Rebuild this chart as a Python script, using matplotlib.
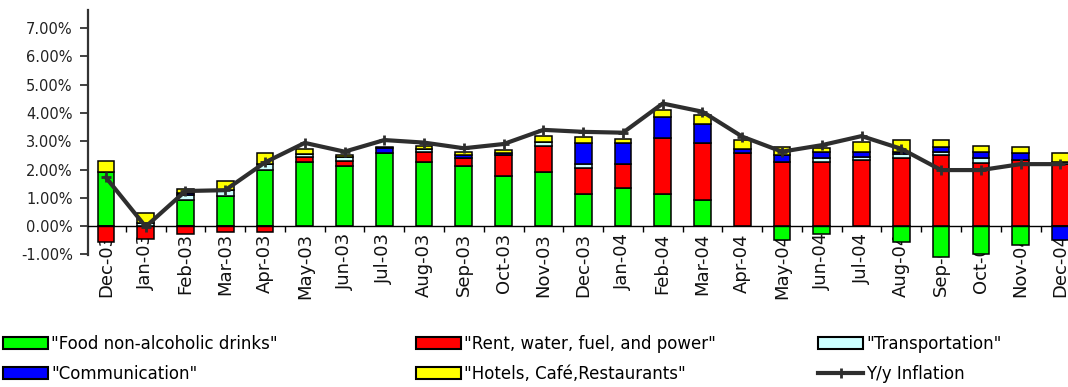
import numpy as np
import matplotlib
matplotlib.use('Agg')
from matplotlib import pyplot as plt
from matplotlib.patches import Patch
from matplotlib.lines import Line2D
from matplotlib.ticker import MultipleLocator

months = ['Dec-03', 'Jan-03', 'Feb-03', 'Mar-03', 'Apr-03', 'May-03', 'Jun-03',
          'Jul-03', 'Aug-03', 'Sep-03', 'Oct-03', 'Nov-03', 'Dec-03', 'Jan-04',
          'Feb-04', 'Mar-04', 'Apr-04', 'May-04', 'Jun-04', 'Jul-04', 'Aug-04',
          'Sep-04', 'Oct-04', 'Nov-04', 'Dec-04']

# contributions to y/y inflation, percentage points
food = [1.92, 0.00, 0.92, 1.06, 2.00, 2.27, 2.12, 2.57, 2.27, 2.12, 1.77, 1.92, 1.13,
        1.33, 1.13, 0.92, 0.00, -0.49, -0.28, 0.00, -0.55, -1.10, -0.97, -0.67, 0.00]
rent = [-0.55, -0.44, -0.26, -0.20, -0.20, 0.18, 0.19, 0.00, 0.36, 0.27, 0.74, 0.91, 0.94,
        0.86, 1.99, 2.00, 2.57, 2.27, 2.27, 2.35, 2.39, 2.51, 2.24, 2.33, 2.19]
transport = [0.00, 0.10, 0.18, 0.21, 0.21, 0.10, 0.14, 0.00, 0.11, 0.00, 0.00, 0.15, 0.12,
             0.00, 0.00, 0.00, 0.00, 0.00, 0.12, 0.10, 0.16, 0.12, 0.15, 0.00, 0.08]
communication = [0.00, 0.00, 0.08, 0.00, 0.00, 0.00, 0.00, 0.18, 0.00, 0.12, 0.08, 0.00, 0.73,
                 0.75, 0.74, 0.67, 0.14, 0.24, 0.24, 0.18, 0.08, 0.15, 0.24, 0.24, -0.49]
hotels = [0.38, 0.35, 0.12, 0.33, 0.38, 0.16, 0.06, 0.05, 0.10, 0.12, 0.10, 0.20, 0.24,
          0.12, 0.24, 0.33, 0.33, 0.27, 0.12, 0.35, 0.41, 0.26, 0.20, 0.21, 0.30]
inflation = [1.72, -0.02, 1.24, 1.27, 2.25, 2.94, 2.63, 3.04, 2.95, 2.75, 2.90, 3.40, 3.33,
             3.30, 4.33, 4.04, 3.16, 2.63, 2.86, 3.18, 2.73, 1.98, 1.98, 2.19, 2.19]

labels = ['"Food non-alcoholic drinks"', '"Rent, water, fuel, and power"', '"Transportation"',
          '"Communication"', '"Hotels, Café,Restaurants"']
colors = ['#00ff00', '#ff0000', '#ccffff', '#0000ff', '#ffff00']

fig = plt.figure(figsize=(10.68, 3.87), dpi=100)
ax = fig.add_axes([0.0824, 0.341, 0.931, 0.633])

x = np.arange(len(months))
pos = np.zeros(len(x))
neg = np.zeros(len(x))
for vals, col in zip([food, rent, transport, communication, hotels], colors):
    v = np.array(vals)
    bottom = np.where(v >= 0, pos, neg)
    ax.bar(x, v, 0.42, bottom=bottom, color=col, edgecolor='black',
           linewidth=1.1, clip_on=False, zorder=2)
    pos += np.clip(v, 0, None)
    neg += np.clip(v, None, 0)

ax.plot(x, inflation, color='#2e2e2e', lw=3, marker='+', ms=7, mew=2,
        zorder=3, clip_on=False)

ax.set_xlim(-0.45, 24.55)
ax.set_ylim(-1.02, 7.63)
ax.set_yticks(np.arange(-1, 8))
ax.set_yticklabels(['%.2f%%' % v for v in np.arange(-1, 8)], fontsize=10.5, color='#222222')
ax.tick_params(axis='y', length=6, width=1.3, color='#333333', pad=5)

# category axis sits on the zero line
ax.spines['bottom'].set_position(('data', 0))
ax.spines['bottom'].set_linewidth(1.0)
ax.spines['top'].set_visible(False)
ax.spines['right'].set_visible(False)
ax.spines['left'].set_color('#333333')
ax.spines['left'].set_linewidth(1.6)
ax.set_xticks(x)
ax.set_xticklabels(months, rotation=90, fontsize=13, color='#111111')
ax.xaxis.set_minor_locator(MultipleLocator(1, offset=0.5))
ax.tick_params(axis='x', which='major', length=0, pad=5)
ax.tick_params(axis='x', which='minor', length=4, width=1.0, direction='out')

patches = [Patch(facecolor=c, edgecolor='black', linewidth=1.5) for c in colors]
line_h = Line2D([], [], color='#2e2e2e', lw=3, marker='+', ms=7, mew=2)

legend_cols = [
    ([patches[0], patches[3]], [labels[0], labels[3]], 3),
    ([patches[1], patches[4]], [labels[1], labels[4]], 416),
    ([patches[2], line_h], [labels[2], 'Y/y Inflation'], 818),
]
for hs, ls, px in legend_cols:
    fig.legend(hs, ls, loc='upper left', bbox_to_anchor=(px / 1068, 0.135),
               frameon=False, fontsize=12, handlelength=2.7, handleheight=0.78,
               handletextpad=0.2, labelspacing=0.72, borderpad=0, borderaxespad=0)

fig.savefig('out.png', dpi=100)
